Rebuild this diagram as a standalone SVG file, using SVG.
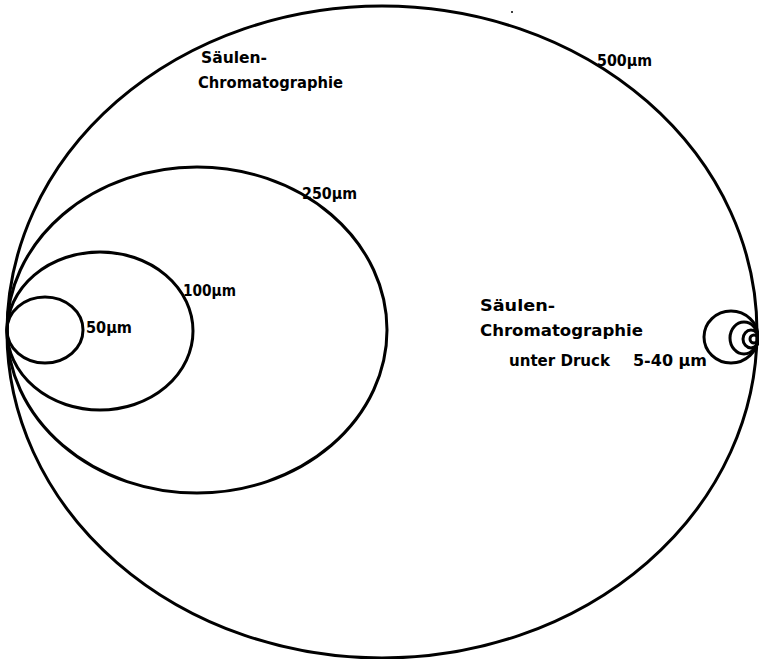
<svg xmlns="http://www.w3.org/2000/svg" width="759" height="659" viewBox="0 0 759 659">
<style>
.c{fill:none;stroke:#000;stroke-width:3}
.t{font-family:"DejaVu Sans","Liberation Sans",sans-serif;font-size:16px;font-weight:bold;fill:#000}
</style>
<rect width="759" height="659" fill="#fff"/>
<g id="ring500"><ellipse class="c" cx="382" cy="332" rx="375" ry="326" stroke-width="2.5"/>
<text class="t" x="597" y="66" textLength="55" lengthAdjust="spacingAndGlyphs">500µm</text></g>
<g id="ring250"><ellipse class="c" cx="197" cy="330" rx="190" ry="163"/>
<text class="t" x="302" y="199" textLength="55" lengthAdjust="spacingAndGlyphs">250µm</text></g>
<g id="ring100"><ellipse class="c" cx="100" cy="331" rx="93" ry="79"/>
<text class="t" x="183" y="296" textLength="53" lengthAdjust="spacingAndGlyphs">100µm</text></g>
<g id="ring50"><ellipse class="c" cx="45" cy="330" rx="38" ry="33"/>
<text class="t" x="86" y="333" textLength="46" lengthAdjust="spacingAndGlyphs">50µm</text></g>
<g id="label-saeule">
<text class="t" x="201" y="63" textLength="66" lengthAdjust="spacingAndGlyphs">Säulen-</text>
<text class="t" x="198" y="88" textLength="145" lengthAdjust="spacingAndGlyphs">Chromatographie</text>
</g>
<g id="hplc">
<ellipse class="c" cx="731" cy="337" rx="27" ry="26"/>
<ellipse class="c" cx="744" cy="338" rx="14" ry="16"/>
<ellipse class="c" cx="751" cy="339" rx="8" ry="9"/>
<ellipse class="c" cx="754" cy="339" rx="4" ry="4"/>
<text class="t" x="480" y="311" textLength="75" lengthAdjust="spacingAndGlyphs">Säulen-</text>
<text class="t" x="480" y="336" textLength="163" lengthAdjust="spacingAndGlyphs">Chromatographie</text>
<text class="t" x="509" y="366" textLength="101" lengthAdjust="spacingAndGlyphs">unter Druck</text>
<text class="t" x="633" y="366" textLength="74" lengthAdjust="spacingAndGlyphs">5-40 µm</text>
</g>
<circle cx="512" cy="12" r="1" fill="#000"/>
</svg>
